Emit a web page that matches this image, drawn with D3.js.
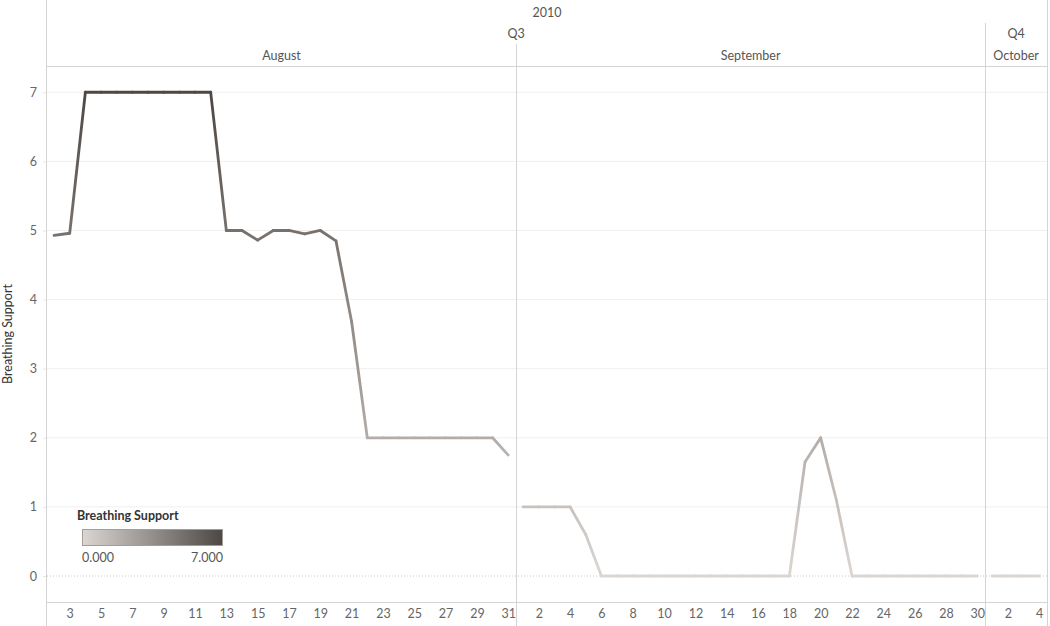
<!DOCTYPE html>
<html>
<head>
<meta charset="utf-8">
<script src="https://cdn.jsdelivr.net/npm/d3@7"></script>
<style>
  body { margin: 0; background: #fff; }
  text { font-family: Lato, "Open Sans", sans-serif; }
</style>
</head>
<body>
<script>
(function() {
  // data
  const year = '2010';
  const quarterNames = ['Q3', 'Q4'];
  const monthNames = ['August', 'September', 'October'];
  const monthQuarter = ['Q3', 'Q3', 'Q4'];

  const augustDays = [2, 3, 4, 5, 6, 7, 8, 9, 10, 11, 12, 13, 14, 15, 16, 17, 18, 19, 20, 21, 22, 23, 24, 25, 26, 27, 28, 29, 30, 31];
  const augustValues = [4.93, 4.96, 7, 7, 7, 7, 7, 7, 7, 7, 7, 5, 5, 4.86, 5, 5, 4.95, 5, 4.85, 3.68, 2, 2, 2, 2, 2, 2, 2, 2, 2, 1.75];
  const septemberDays = [1, 2, 3, 4, 5, 6, 7, 8, 9, 10, 11, 12, 13, 14, 15, 16, 17, 18, 19, 20, 21, 22, 23, 24, 25, 26, 27, 28, 29, 30];
  const septemberValues = [1, 1, 1, 1, 0.6, 0, 0, 0, 0, 0, 0, 0, 0, 0, 0, 0, 0, 0, 1.65, 2, 1.1, 0, 0, 0, 0, 0, 0, 0, 0, 0];
  const octoberDays = [1, 2, 3, 4];
  const octoberValues = [0, 0, 0, 0];

  const augustTicks = [3, 5, 7, 9, 11, 13, 15, 17, 19, 21, 23, 25, 27, 29, 31];
  const septemberTicks = [2, 4, 6, 8, 10, 12, 14, 16, 18, 20, 22, 24, 26, 28, 30];
  const octoberTicks = [2, 4];
  const yTicks = [0, 1, 2, 3, 4, 5, 6, 7];

  const width = 1050;
  const height = 626;
  const left = 47, right = 1047, top = 66, bottom = 602;

  const panes = [
    { month: monthNames[0], days: augustDays, values: augustValues, ticks: augustTicks },
    { month: monthNames[1], days: septemberDays, values: septemberValues, ticks: septemberTicks },
    { month: monthNames[2], days: octoberDays, values: octoberValues, ticks: octoberTicks }
  ];

  let offset = 0;
  panes.forEach(function(p, i) {
    p.start = d3.min(p.days) - 0.45;
    p.end = d3.max(p.days) + 0.5;
    p.offset = offset;
    p.quarter = monthQuarter[i];
    offset += p.end - p.start;
  });

  const xScale = d3.scaleLinear().domain([0, offset]).range([left, right]);
  const yScale = d3.scaleLinear().domain([-0.376, 7.38]).range([bottom, top]);
  const color = d3.scaleLinear().domain([0, 7]).range(['#dcd6d2', '#4e4844']);

  function xPos(p, day) { return xScale(p.offset + day - p.start); }

  const svg = d3.select('body').append('svg').attr('width', width).attr('height', height);
  const defs = svg.append('defs');

  // gridlines
  svg.append('g')
    .selectAll('line')
    .data(yTicks)
    .enter()
    .append('line')
    .attr('x1', left).attr('x2', right)
    .attr('y1', function(d) { return yScale(d); })
    .attr('y2', function(d) { return yScale(d); })
    .attr('stroke', function(d) { return d === 0 ? '#c8c8c8' : '#efefef'; })
    .attr('stroke-dasharray', function(d) { return d === 0 ? '1,2' : null; });

  // y axis
  const yAxis = svg.append('g')
    .attr('transform', 'translate(' + left + ',0)')
    .call(d3.axisLeft(yScale).tickValues(yTicks).tickSize(4).tickPadding(6).tickFormat(d3.format('d')));
  yAxis.select('.domain').remove();
  yAxis.selectAll('.tick line').attr('stroke', '#e6e6e6');
  yAxis.selectAll('.tick text').attr('fill', '#666').style('font-size', '12.5px').style('font-family', 'Lato, sans-serif');

  svg.append('text')
    .attr('transform', 'translate(12,' + ((top + bottom) / 2) + ') rotate(-90)')
    .attr('text-anchor', 'middle')
    .attr('fill', '#333')
    .style('font-size', '12.5px')
    .text('Breathing Support');

  // frame lines
  svg.append('line').attr('x1', left - 0.5).attr('x2', left - 0.5).attr('y1', 0).attr('y2', height).attr('stroke', '#d4d4d4');
  svg.append('line').attr('x1', right + 0.5).attr('x2', right + 0.5).attr('y1', 0).attr('y2', height).attr('stroke', '#d4d4d4');
  svg.append('line').attr('x1', left).attr('x2', right).attr('y1', top + 0.5).attr('y2', top + 0.5).attr('stroke', '#d4d4d4');
  svg.append('line').attr('x1', left).attr('x2', right).attr('y1', bottom + 0.5).attr('y2', bottom + 0.5).attr('stroke', '#d4d4d4');

  // pane dividers
  panes.forEach(function(p, i) {
    if (i === 0) return;
    const x = Math.round(xScale(p.offset)) + 0.5;
    const newQuarter = p.quarter !== panes[i - 1].quarter;
    svg.append('line')
      .attr('x1', x).attr('x2', x)
      .attr('y1', newQuarter ? 23 : 44).attr('y2', height)
      .attr('stroke', '#d4d4d4');
  });

  // headers
  function header(txt, x, y) {
    svg.append('text').attr('x', x).attr('y', y).attr('text-anchor', 'middle')
      .attr('fill', '#555').style('font-size', '12.5px').text(txt);
  }
  header(year, (left + right) / 2, 17);
  quarterNames.forEach(function(q) {
    const ps = panes.filter(function(p) { return p.quarter === q; });
    const x0 = xScale(ps[0].offset);
    const last = ps[ps.length - 1];
    const x1 = xScale(last.offset + last.end - last.start);
    header(q, (x0 + x1) / 2, 38);
  });
  panes.forEach(function(p) {
    header(p.month, (xScale(p.offset) + xScale(p.offset + p.end - p.start)) / 2, 60);
  });

  // day ticks
  panes.forEach(function(p) {
    const sc = d3.scaleLinear().domain([p.start, p.end]).range([xScale(p.offset), xScale(p.offset + p.end - p.start)]);
    const ax = svg.append('g')
      .attr('transform', 'translate(0,' + bottom + ')')
      .call(d3.axisBottom(sc).tickValues(p.ticks).tickSize(0).tickPadding(7).tickFormat(d3.format('d')));
    ax.select('.domain').remove();
    ax.selectAll('.tick text').attr('fill', '#666').style('font-size', '12.5px').style('font-family', 'Lato, sans-serif');
  });

  // lines, each segment shaded between its end colours
  let gid = 0;
  panes.forEach(function(p) {
    const pts = p.days.map(function(d, i) { return { x: xPos(p, d), y: yScale(p.values[i]), v: p.values[i] }; });
    const g = svg.append('g');
    for (let i = 0; i < pts.length - 1; i++) {
      const a = pts[i], b = pts[i + 1];
      const id = 'seg' + (gid++);
      const grad = defs.append('linearGradient').attr('id', id)
        .attr('gradientUnits', 'userSpaceOnUse')
        .attr('x1', a.x).attr('y1', a.y).attr('x2', b.x).attr('y2', b.y);
      grad.append('stop').attr('offset', '0%').attr('stop-color', color(a.v));
      grad.append('stop').attr('offset', '100%').attr('stop-color', color(b.v));
      g.append('line')
        .attr('x1', a.x).attr('y1', a.y).attr('x2', b.x).attr('y2', b.y)
        .attr('stroke', 'url(#' + id + ')')
        .attr('stroke-width', 2.8)
        .attr('stroke-linecap', 'round');
    }
  });

  // colour legend
  const lg = defs.append('linearGradient').attr('id', 'legendGrad');
  lg.append('stop').attr('offset', '0%').attr('stop-color', color(0));
  lg.append('stop').attr('offset', '100%').attr('stop-color', color(7));
  const legend = svg.append('g');
  legend.append('text').attr('x', 77).attr('y', 520).attr('fill', '#333')
    .style('font-size', '12.5px').style('font-weight', 'bold').text('Breathing Support');
  legend.append('rect').attr('x', 82.5).attr('y', 529.5).attr('width', 140).attr('height', 16)
    .attr('fill', 'url(#legendGrad)').attr('stroke', '#a59c95');
  legend.append('text').attr('x', 82).attr('y', 562).attr('fill', '#555').style('font-size', '12.5px').text('0.000');
  legend.append('text').attr('x', 223).attr('y', 562).attr('text-anchor', 'end').attr('fill', '#555').style('font-size', '12.5px').text('7.000');
})();
</script>
</body>
</html>
